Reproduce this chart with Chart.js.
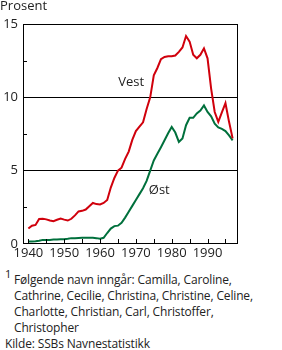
<!DOCTYPE html>
<html lang="no">
<head>
  <meta charset="UTF-8">
  <title>Navn - Vest og Øst</title>
  <style>
    body { margin: 0; background: #fff; font-family: 'Open Sans', sans-serif; color: #222; }
    #wrap { position: relative; width: 282px; height: 350px; }
    canvas { position: absolute; left: 0; top: 0; }
    .note { position: absolute; left: 14px; font-size: 12px; letter-spacing: -0.15px; line-height: 16px; white-space: nowrap; }
    .note sup { position: absolute; left: -9px; top: -4px; font-size: 11px; line-height: 11px; vertical-align: baseline; }
    .kilde { position: absolute; left: 5px; top: 335px; font-size: 12px; letter-spacing: -0.15px; white-space: nowrap; }
  </style>
</head>
<body>
  <div id="wrap">
    <canvas id="graf" width="282" height="262"></canvas>
    <div class="note" style="top:272px"><sup>1</sup>Følgende navn inngår: Camilla, Caroline,<br>Cathrine, Cecilie, Christina, Christine, Celine,<br>Charlotte, Christian, Carl, Christoffer,<br>Christopher</div>
    <div class="kilde">Kilde: SSBs Navnestatistikk</div>
  </div>
  <script src="https://cdn.jsdelivr.net/npm/chart.js"></script>
  <script>
    const aar = [];
    for (let a = 1940; a <= 1997; a++) aar.push(a);

    const vest = [1.05, 1.25, 1.3, 1.7, 1.72, 1.68, 1.6, 1.56, 1.65, 1.74,
                  1.66, 1.6, 1.72, 1.95, 2.22, 2.26, 2.35, 2.58, 2.8, 2.72,
                  2.7, 2.8, 3.0, 3.85, 4.5, 5.0, 5.2, 5.8, 6.3, 7.1,
                  7.7, 8.0, 8.3, 9.2, 10.0, 11.5, 12.0, 12.6, 12.75, 12.8,
                  12.8, 12.85, 13.1, 13.4, 14.18, 13.8, 12.9, 12.66, 12.9, 13.34,
                  12.66, 10.6, 9.0, 8.33, 8.97, 9.6, 8.33, 7.2];
    const ost = [0.17, 0.17, 0.18, 0.22, 0.28, 0.28, 0.28, 0.3, 0.3, 0.32,
                 0.33, 0.36, 0.4, 0.4, 0.41, 0.42, 0.42, 0.42, 0.42, 0.4,
                 0.36, 0.42, 0.75, 1.05, 1.22, 1.25, 1.45, 1.8, 2.2, 2.6,
                 3.0, 3.4, 3.8, 4.3, 5.0, 5.7, 6.15, 6.6, 7.07, 7.55,
                 7.98, 7.6, 6.96, 7.2, 8.1, 8.6, 8.6, 8.9, 9.1, 9.45,
                 9.0, 8.7, 8.2, 7.95, 7.85, 7.7, 7.4, 7.07];

    const xEtiketter = [1940, 1950, 1960, 1970, 1980, 1990];
    const xSmaaStreker = [1940, 1945, 1950, 1955, 1960, 1965, 1970, 1975, 1980, 1985, 1990, 1995];
    const yEtiketter = [0, 5, 10, 15];
    const yHjelpelinjer = [5, 10];
    const ySmaaStreker = [2.5, 7.5, 12.5];

    const skrift = "'Open Sans', sans-serif";
    const tekstFarge = '#222';

    const tillegg = {
      id: 'tillegg',
      afterDraw(chart) {
        const { ctx, chartArea: a, scales: { x, y } } = chart;
        ctx.save();
        ctx.strokeStyle = '#000';
        ctx.lineWidth = 1;
        // ramme
        ctx.strokeRect(Math.round(a.left) + 0.5, Math.round(a.top) + 0.5,
                       Math.round(a.right - a.left) - 1, Math.round(a.bottom - a.top) - 1);
        // små streker
        ctx.beginPath();
        ySmaaStreker.forEach(v => {
          const py = Math.round(y.getPixelForValue(v)) + 0.5;
          ctx.moveTo(a.left, py); ctx.lineTo(a.left + 4, py);
        });
        xSmaaStreker.forEach(v => {
          const px = Math.round(x.getPixelForValue(v)) + 0.5;
          ctx.moveTo(px, a.bottom); ctx.lineTo(px, a.bottom - 5);
        });
        ctx.stroke();
        // tekster
        ctx.fillStyle = tekstFarge;
        ctx.font = '13px ' + skrift;
        ctx.textBaseline = 'top';
        ctx.textAlign = 'left';
        ctx.fillText('Prosent', 0, 0);
        ctx.textBaseline = 'middle';
        ctx.fillText('Vest', x.getPixelForValue(1965.1), y.getPixelForValue(11.0));
        ctx.fillText('Øst', x.getPixelForValue(1973.6), y.getPixelForValue(3.67));
        ctx.restore();
      }
    };

    new Chart(document.getElementById('graf'), {
      type: 'line',
      data: {
        labels: aar,
        datasets: [
          { label: 'Vest', data: aar.map((a, i) => ({ x: a, y: vest[i] })), borderColor: '#d0000c', borderWidth: 2, pointRadius: 0, tension: 0 },
          { label: 'Øst', data: aar.map((a, i) => ({ x: a, y: ost[i] })), borderColor: '#00703c', borderWidth: 2, pointRadius: 0, tension: 0 }
        ]
      },
      options: {
        responsive: false,
        animation: false,
        layout: { padding: { top: 24, right: 44, left: 0, bottom: 0 } },
        plugins: { legend: { display: false }, tooltip: { enabled: false } },
        scales: {
          x: {
            type: 'linear', min: 1938.5, max: 1998.5,
            afterBuildTicks: s => { s.ticks = xEtiketter.map(v => ({ value: v })); },
            afterFit: s => { s.height = 18; },
            grid: { display: false, drawTicks: false },
            border: { display: false },
            ticks: { color: tekstFarge, font: { family: skrift, size: 13 }, padding: 1, maxRotation: 0, autoSkip: false, callback: v => String(v) }
          },
          y: {
            min: 0, max: 15,
            afterBuildTicks: s => { s.ticks = yEtiketter.map(v => ({ value: v })); },
            afterFit: s => { s.width = 23; },
            grid: { drawTicks: false, color: c => yHjelpelinjer.includes(c.tick.value) ? '#000' : 'rgba(0,0,0,0)' },
            border: { display: false },
            ticks: { color: tekstFarge, font: { family: skrift, size: 13 }, padding: 5 }
          }
        }
      },
      plugins: [tillegg]
    });
  </script>
</body>
</html>
